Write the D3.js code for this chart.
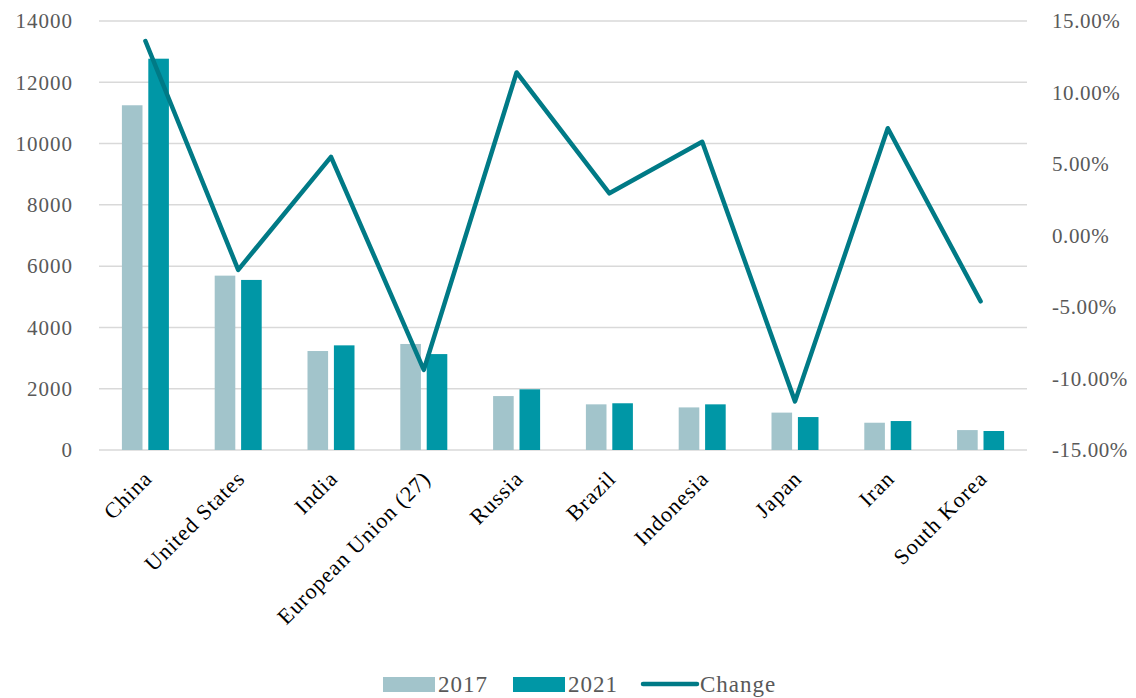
<!DOCTYPE html>
<html>
<head>
<meta charset="utf-8">
<script src="https://cdn.jsdelivr.net/npm/d3@7"></script>
<style>
  body { margin: 0; background: #fff; }
  text { font-family: "Palatino Linotype", "Book Antiqua", Palatino, "Liberation Serif", serif; }
</style>
</head>
<body>
<div id="chart"></div>
<script>
// data
var countries = ["China", "United States", "India", "European Union (27)", "Russia",
  "Brazil", "Indonesia", "Japan", "Iran", "South Korea"];
var values2017 = [11250, 5690, 3230, 3460, 1760, 1490, 1390, 1220, 890, 650];
var values2021 = [12770, 5550, 3415, 3130, 1980, 1525, 1490, 1075, 945, 620];
var change = [13.6, -2.4, 5.5, -9.4, 11.4, 2.95, 6.55, -11.6, 7.5, -4.6];
var seriesNames = ["2017", "2021", "Change"];
var leftTicks = [0, 2000, 4000, 6000, 8000, 10000, 12000, 14000];
var rightTicks = [-15, -10, -5, 0, 5, 10, 15];

var colors = { "2017": "#a2c4cb", "2021": "#0097a6", "Change": "#007a86" };
var fontStack = "'Palatino Linotype', 'Book Antiqua', Palatino, 'Liberation Serif', serif";

var svgWidth = 1136;
var svgHeight = 698;
var margin = { top: 21, bottom: 248, left: 99, right: 109 };
var width = svgWidth - margin.left - margin.right;
var height = svgHeight - margin.top - margin.bottom;

var svg = d3.select("#chart")
  .append("svg")
  .attr("width", svgWidth)
  .attr("height", svgHeight);

var chartGroup = svg.append("g")
  .attr("transform", `translate(${margin.left}, ${margin.top})`);

// scales
var xScale = d3.scaleBand()
  .domain(countries)
  .range([0, width])
  .padding(0);

var xInner = d3.scaleBand()
  .domain(["2017", "2021"])
  .range([-23.5, 23.5])
  .paddingInner(0.22);

var yLeft = d3.scaleLinear()
  .domain([0, 14000])
  .range([height, 0]);

var yRight = d3.scaleLinear()
  .domain([-15, 15])
  .range([height, 0]);

// gridlines
chartGroup.append("g")
  .selectAll("line")
  .data(leftTicks)
  .enter()
  .append("line")
  .attr("x1", 0)
  .attr("x2", width)
  .attr("y1", d => yLeft(d))
  .attr("y2", d => yLeft(d))
  .attr("stroke", "#d9d9d9")
  .attr("stroke-width", 1.5);

// left axis
var leftAxis = d3.axisLeft(yLeft).tickValues(leftTicks).tickSize(0).tickPadding(26)
  .tickFormat(d3.format("d"));
var gl = chartGroup.append("g").call(leftAxis);
gl.select(".domain").remove();
gl.selectAll("text").attr("font-size", "21px").attr("fill", "#595959")
  .style("letter-spacing", "1px")
  .style("font-family", fontStack);

// right axis (hyphen minus like the original)
var rightAxis = d3.axisRight(yRight).tickValues(rightTicks).tickSize(0).tickPadding(25)
  .tickFormat(d => d.toFixed(2) + "%");
var gr = chartGroup.append("g")
  .attr("transform", `translate(${width}, 0)`)
  .call(rightAxis);
gr.select(".domain").remove();
gr.selectAll("text").attr("font-size", "21px").attr("fill", "#595959")
  .style("letter-spacing", "0.6px")
  .style("font-family", fontStack);

// bars
var groups = chartGroup.selectAll(".cat")
  .data(countries)
  .enter()
  .append("g")
  .attr("transform", d => `translate(${xScale(d) + xScale.bandwidth() / 2}, 0)`);

groups.append("rect")
  .attr("x", xInner("2017"))
  .attr("width", xInner.bandwidth())
  .attr("y", (d, i) => yLeft(values2017[i]))
  .attr("height", (d, i) => height - yLeft(values2017[i]))
  .attr("fill", colors["2017"]);

groups.append("rect")
  .attr("x", xInner("2021"))
  .attr("width", xInner.bandwidth())
  .attr("y", (d, i) => yLeft(values2021[i]))
  .attr("height", (d, i) => height - yLeft(values2021[i]))
  .attr("fill", colors["2021"]);

// change line
var line = d3.line()
  .x((d, i) => xScale(countries[i]) + xScale.bandwidth() / 2)
  .y(d => yRight(d));

chartGroup.append("path")
  .datum(change)
  .attr("d", line)
  .attr("fill", "none")
  .attr("stroke", colors["Change"])
  .attr("stroke-width", 4.5)
  .attr("stroke-linejoin", "round")
  .attr("stroke-linecap", "round");

// category labels
chartGroup.append("g")
  .selectAll("text")
  .data(countries)
  .enter()
  .append("text")
  .attr("transform", d => `translate(${xScale(d) + xScale.bandwidth() / 2 + 8}, ${height + 30}) rotate(-45)`)
  .attr("text-anchor", "end")
  .attr("font-size", "22px")
  .style("letter-spacing", "1px")
  .attr("fill", "#000")
  .text(d => d);

// legend
var legendItems = [
  { name: seriesNames[0], x: 383, type: "rect" },
  { name: seriesNames[1], x: 513, type: "rect" },
  { name: seriesNames[2], x: 643, type: "line" }
];
var legend = svg.append("g").attr("transform", "translate(0, 684)");
legendItems.forEach(function (item) {
  if (item.type === "rect") {
    legend.append("rect")
      .attr("x", item.x).attr("y", -7)
      .attr("width", 52).attr("height", 15)
      .attr("fill", colors[item.name]);
  } else {
    legend.append("line")
      .attr("x1", item.x).attr("x2", item.x + 54)
      .attr("y1", 0).attr("y2", 0)
      .attr("stroke", colors[item.name])
      .attr("stroke-width", 4.5)
      .attr("stroke-linecap", "round");
  }
  legend.append("text")
    .attr("x", item.x + (item.type === "rect" ? 55 : 57))
    .attr("y", 8)
    .attr("font-size", "23px")
    .style("letter-spacing", "1px")
    .attr("fill", "#595959")
    .text(item.name);
});
</script>
</body>
</html>
